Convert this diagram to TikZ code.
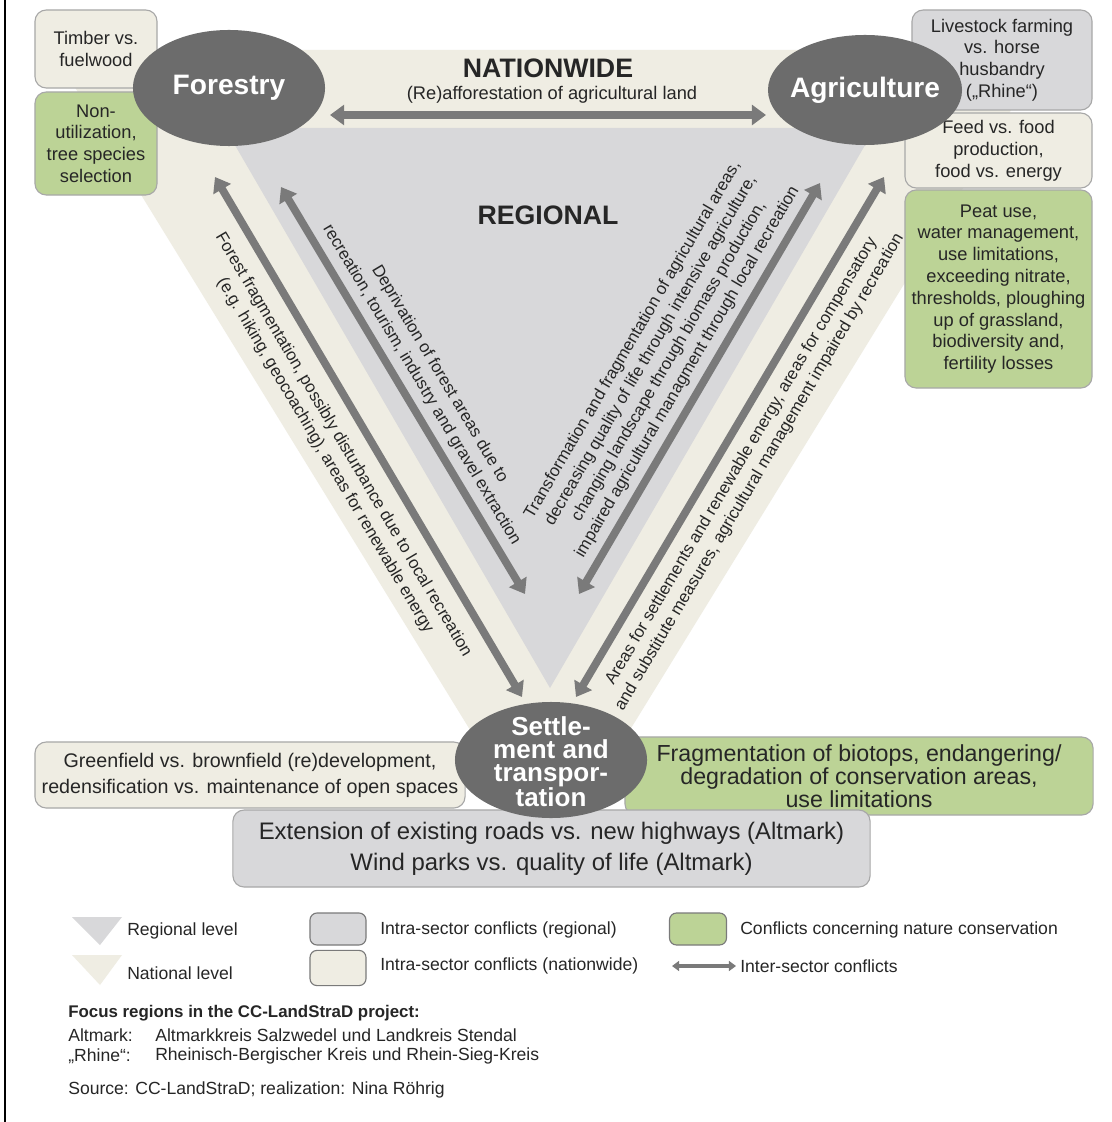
\documentclass[tikz,border=0pt]{standalone}
\usepackage{fontspec}
\setmainfont{Liberation Sans}
\usepackage{xcolor}
\usepackage{tikz}
\usetikzlibrary{arrows.meta,shapes.geometric}
\definecolor{natcol}{RGB}{239,237,227}
\definecolor{regcol}{RGB}{216,216,218}
\definecolor{grncol}{RGB}{188,211,150}
\definecolor{sectcol}{RGB}{108,108,108}
\definecolor{arrcol}{RGB}{122,122,122}
\definecolor{boxline}{RGB}{168,168,168}
\definecolor{txtcol}{RGB}{38,38,38}

\begin{document}
\begin{tikzpicture}[x=0.025cm,y=-0.025cm,
   sector/.style={ellipse,fill=sectcol,inner sep=0pt},
   sectlbl/.style={text=white,inner sep=0pt,align=center,
     font=\bfseries\fontsize{20}{16.2}\selectfont},
   cbox/.style={rounded corners=8pt,draw=boxline,line width=0.8pt,
     inner sep=0pt,align=center,text=txtcol,font=\fontsize{13}{15.5}\selectfont},
   natbox/.style={cbox,fill=natcol},
   regbox/.style={cbox,fill=regcol},
   grnbox/.style={cbox,fill=grncol},
   conflict/.style={draw=arrcol,line width=5.5pt,
     {Triangle[length=10pt,width=14pt]}-{Triangle[length=10pt,width=14pt]}},
   diag/.style={sloped,inner sep=0pt,align=center,text=txtcol,
     font=\fontsize{12}{15}\selectfont},
   legtxt/.style={anchor=west,inner sep=0pt,text=txtcol,font=\fontsize{12.5}{15}\selectfont}]
  \useasboundingbox (0,0) rectangle (1111,1122);
  \fill[white] (0,0) rectangle (1111,1122);
  \draw[line width=1pt] (5,0) -- (5,1122);
  % levels
  \fill[natcol] (52,50) -- (1048,50) -- (550,860) -- cycle;
  \fill[regcol] (225,128) -- (875,128) -- (550,688) -- cycle;
  % forestry boxes
  \node[natbox,minimum width=3.05cm,minimum height=1.95cm] (timber) at (96,49) {Timber vs.\\fuelwood};
  \node[grnbox,minimum width=3.05cm,minimum height=2.575cm] (nonuse) at (96,143.5)
    {Non-\\utilization,\\tree species\\selection};
  % agriculture boxes
  \node[regbox,minimum width=4.5cm,minimum height=2.5cm] (livestock) at (1002,60)
    {Livestock farming\\vs. horse\\husbandry\\(„Rhine“)};
  \node[natbox,minimum width=4.675cm,minimum height=1.875cm] (feed) at (998.5,150.5)
    {Feed vs. food\\production,\\food vs. energy};
  \node[grnbox,minimum width=4.675cm,minimum height=4.95cm] (peat) at (998.5,289)
    {Peat use,\\water management,\\use limitations,\\exceeding nitrate,\\thresholds, ploughing\\up of grassland,\\biodiversity and,\\fertility losses};
  % settlement boxes
  \node[natbox,minimum width=10.75cm,minimum height=1.65cm,font=\fontsize{14}{18.5}\selectfont] (greenfield) at (250,775)
    {Greenfield vs. brownfield (re)development,\\redensification vs. maintenance of open spaces};
  \node[grnbox,minimum width=11.7cm,minimum height=1.95cm,font=\fontsize{16.5}{16.5}\selectfont] (biotops) at (859,776)
    {Fragmentation of biotops, endangering/\\degradation of conservation areas,\\use limitations};
  \node[regbox,minimum width=15.925cm,minimum height=1.925cm,font=\fontsize{17}{22}\selectfont] (roads) at (551.5,848.5)
    {Extension of existing roads vs. new highways (Altmark)\\Wind parks vs. quality of life (Altmark)};
  % top
  \node[font=\bfseries\fontsize{19}{22}\selectfont,text=txtcol] (nationwide) at (548,68) {NATIONWIDE};
  \node[font=\fontsize{13}{15}\selectfont,text=txtcol] (reafforest) at (552,95) {(Re)afforestation of agricultural land};
  \node[font=\bfseries\fontsize{19}{22}\selectfont,text=txtcol] (regional) at (548,215) {REGIONAL};
  \coordinate (fo-top) at (330,115);
  \coordinate (ag-top) at (766,115);
  \draw[conflict] (fo-top) -- (ag-top);
  % forestry - settlement
  \coordinate (fo-nat) at (215,177);
  \coordinate (se-fo-nat) at (522,697);
  \draw[conflict] (fo-nat) -- node[diag,below=10pt,pos=0.49] (txt-fo-nat)
    {Forest fragmentation, possibly disturbance due to local recreation\\(e.g. hiking, geocoaching), areas for renewable energy} (se-fo-nat);
  \coordinate (fo-reg) at (281,187);
  \coordinate (se-fo-reg) at (525,594);
  \draw[conflict] (fo-reg) -- node[diag,above=5pt,pos=0.51] (txt-fo-reg)
    {Deprivation of forest areas due to\\recreation, tourism, industry and gravel extraction} (se-fo-reg);
  % agriculture - settlement
  \coordinate (ag-reg) at (820,183);
  \coordinate (se-ag-reg) at (579,594);
  \draw[conflict] (se-ag-reg) -- node[diag,above=5pt,pos=0.517] (txt-ag-reg)
    {Transformation and fragmentation of agricultural areas,\\decreasing quality of life through intensive agriculture,\\changing landscape through biomass production,\\impaired agricultural managment through local recreation} (ag-reg);
  \coordinate (ag-nat) at (884,177);
  \coordinate (se-ag-nat) at (576,697);
  \draw[conflict] (se-ag-nat) -- node[diag,below=7.5pt,pos=0.475] (txt-ag-nat)
    {Areas for settlements and renewable energy, areas for compensatory\\and substitute measures, agricultural management impaired by recreation} (ag-nat);
  % sectors
  \node[sector,minimum width=4.8cm,minimum height=2.9cm] (forestry) at (229,88) {};
  \node[sectlbl] (forestry-t) at (forestry) {Forestry};
  \node[sector,minimum width=4.85cm,minimum height=2.75cm] (agri) at (865,90) {};
  \node[sectlbl] (agri-t) at (agri) {Agriculture};
  \node[sector,minimum width=4.8cm,minimum height=2.9cm] (settle) at (551,760) {};
  \node[sectlbl,font=\bfseries\fontsize{18.5}{16.2}\selectfont] (settle-t) at (551,762)
    {Settle-\\ment and\\transpor-\\tation};
  % legend
  \fill[regcol] (72,917) -- (122,917) -- (100,945) -- cycle;
  \fill[natcol] (72,955) -- (122,955) -- (100,985) -- cycle;
  \node[legtxt] (leg-reg) at (127,931) {Regional level};
  \node[legtxt] (leg-nat) at (127,973) {National level};
  \node[regbox,draw=arrcol,rounded corners=5pt,minimum width=1.4cm,minimum height=0.8cm] (leg-regbox) at (338,929) {};
  \node[natbox,draw=arrcol,rounded corners=5pt,minimum width=1.4cm,minimum height=0.88cm] (leg-natbox) at (338,968) {};
  \node[grnbox,draw=arrcol,rounded corners=5pt,minimum width=1.425cm,minimum height=0.8cm] (leg-grnbox) at (698,929) {};
  \node[legtxt] (leg-regtxt) at (380,930) {Intra-sector conflicts (regional)};
  \node[legtxt] (leg-nattxt) at (380,966) {Intra-sector conflicts (nationwide)};
  \node[legtxt] (leg-grntxt) at (740,930) {Conflicts concerning nature conservation};
  \coordinate (leg-a1) at (672,966);
  \coordinate (leg-a2) at (736,966);
  \draw[conflict,line width=3pt,{Triangle[length=5pt,width=7pt]}-{Triangle[length=5pt,width=7pt]}] (leg-a1) -- (leg-a2);
  \node[legtxt] (leg-arrtxt) at (740,966) {Inter-sector conflicts};
  % focus regions
  \node[legtxt,font=\bfseries\fontsize{12}{14}\selectfont] (focus) at (68,1013) {Focus regions in the CC-LandStraD project:};
  \node[legtxt] (altmark) at (68,1035) {Altmark:};
  \node[legtxt] (altmark-d) at (155,1035) {Altmarkkreis Salzwedel und Landkreis Stendal};
  \node[legtxt] (rhine) at (68,1056) {„Rhine“:};
  \node[legtxt] (rhine-d) at (155,1056) {Rheinisch-Bergischer Kreis und Rhein-Sieg-Kreis};
  \node[legtxt] (source) at (68,1090) {Source: CC-LandStraD; realization: Nina Röhrig};
\end{tikzpicture}
\end{document}
